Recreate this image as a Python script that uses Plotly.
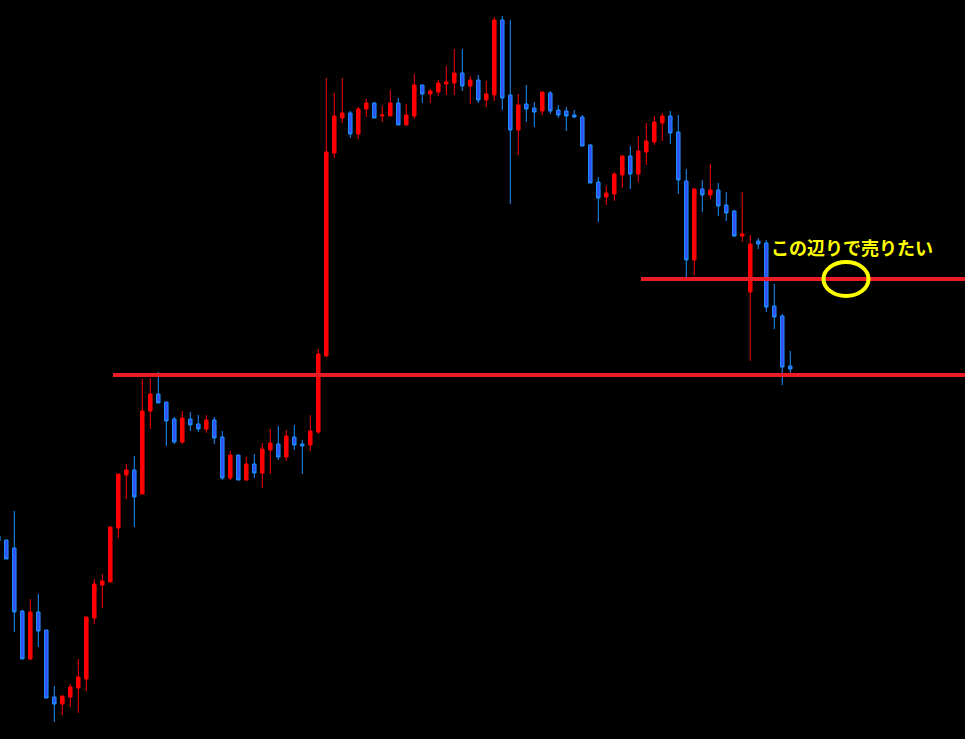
import plotly.graph_objects as go

# candle index (time slot) and OHLC prices
idx = list(range(100))
opens = [203,199,191,128,80,127,109,42,35,42,51,60,121,154,157,211,264,269,245,328,
         345,337,320,297,320,315,310,319,302,261,284,259,275,266,289,295,282,302,295,294,
         307,383,586,621,626,605,630,636,623,623,636,614,623,654,645,647,655,656,666,653,
         659,639,644,719,644,609,635,631,628,646,629,628,624,622,594,557,542,545,564,583,
         565,587,597,616,623,607,558,479,550,544,549,534,528,503,447,498,496,433,423,373]
highs = [204,199,228,129,140,145,109,53,43,55,80,122,160,165,212,265,275,283,360,361,
         367,337,322,328,327,324,324,322,308,288,284,282,285,296,310,313,309,314,299,324,
         390,661,646,661,628,632,640,637,633,649,641,635,665,654,650,659,673,690,690,663,
         664,658,722,723,719,645,654,637,647,648,634,632,629,624,595,562,553,567,584,593,
         603,616,623,626,628,624,570,551,559,575,556,547,529,547,504,501,499,455,425,388]
lows = [197,180,107,80,79,92,41,17,24,32,26,48,115,131,157,201,240,212,245,310,
        336,293,295,295,308,307,306,295,259,259,259,258,261,251,265,279,278,289,265,288,
        305,382,581,616,601,600,622,621,617,623,614,614,620,636,636,643,644,644,648,635,
        636,632,638,629,535,584,617,612,624,625,621,608,621,593,556,517,534,538,551,550,
        557,574,594,598,595,545,462,464,527,540,523,518,502,497,378,490,427,410,354,364]
closes = [198,180,127,80,127,108,41,35,43,52,62,122,155,158,212,265,269,242,328,345,
          336,318,297,321,314,310,319,301,261,284,259,275,266,290,296,282,303,294,293,308,
          385,587,623,626,605,630,636,621,624,636,614,624,654,645,648,656,657,666,653,659,
          639,645,719,641,609,634,630,627,647,628,624,623,622,593,556,541,546,565,583,565,
          588,598,617,623,606,559,479,550,544,549,533,526,503,505,495,495,432,422,372,370]

# horizontal levels drawn on the chart
support_level = 364
sell_level = 460
support_start = 14.34
sell_start = 80.34
label_text = "この辺りで売りたい"

fig = go.Figure()
fig.add_trace(go.Candlestick(
    x=idx, open=opens, high=highs, low=lows, close=closes,
    increasing=dict(line=dict(color="#FF0000", width=1), fillcolor="#FF0000"),
    decreasing=dict(line=dict(color="#1E90FF", width=1), fillcolor="#3050F8"),
    whiskerwidth=0, hoverinfo="skip", showlegend=False,
))

x_max = 120.84
fig.add_shape(type="line", x0=support_start, x1=x_max, y0=support_level, y1=support_level,
              line=dict(color="#ED1C24", width=4), layer="above")
fig.add_shape(type="line", x0=sell_start, x1=x_max, y0=sell_level, y1=sell_level,
              line=dict(color="#ED1C24", width=4), layer="above")
fig.add_shape(type="circle", x0=103.15, x1=108.78, y0=sell_level - 17, y1=sell_level + 17,
              line=dict(color="#FFFF00", width=4), layer="above")
fig.add_annotation(x=106.7, y=492, text="<b>" + label_text + "</b>", showarrow=False,
                   font=dict(family="Noto Sans CJK JP", size=18, color="#FFFF00"))

fig.update_layout(
    width=965, height=739,
    margin=dict(l=0, r=0, t=0, b=0),
    paper_bgcolor="black", plot_bgcolor="black",
    boxgap=0.375,
    xaxis=dict(range=[0.2125, x_max], visible=False, showgrid=False, zeroline=False,
               rangeslider=dict(visible=False)),
    yaxis=dict(range=[0, 739], visible=False, showgrid=False, zeroline=False),
    showlegend=False,
)
fig.write_html(
    "out.html",
    config={"displayModeBar": False, "staticPlot": True},
    post_script="document.body.style.margin='0';document.body.style.overflow='hidden';"
                "document.body.style.background='black';",
)
